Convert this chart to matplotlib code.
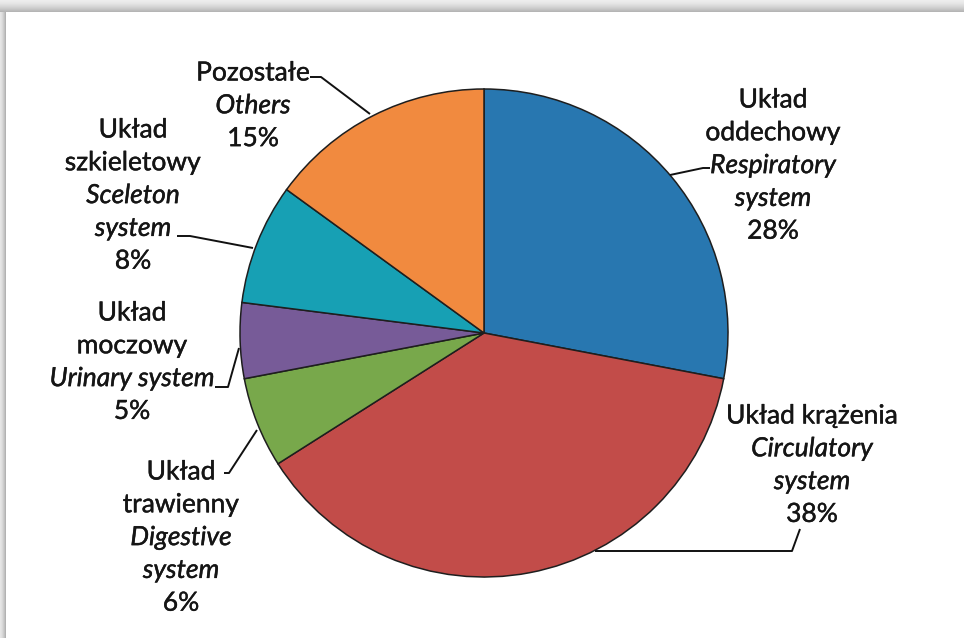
import numpy as np
import matplotlib
matplotlib.use("Agg")
import matplotlib.pyplot as plt
import matplotlib.patheffects as pe

# slice values (percent), clockwise from 12 o'clock
values = [28, 38, 6, 5, 8, 15]
names_pl = ["Układ\noddechowy", "Układ krążenia", "Układ\ntrawienny",
            "Układ\nmoczowy", "Układ\nszkieletowy", "Pozostałe"]
names_en = ["Respiratory\nsystem", "Circulatory\nsystem", "Digestive\nsystem",
            "Urinary system", "Sceleton\nsystem", "Others"]
colors = ["#2877b0", "#c24c49", "#78a84b", "#775b98", "#17a0b4", "#f18a3f"]

# label block centres (x, y of first line) in pixels, top-left origin
label_pos = [(773, 100), (812, 416), (181, 472), (132, 313), (133, 130), (253, 73)]
# leader lines, pixel coords
leaders = [
    [(670, 175), (703, 168), (710, 168)],
    [(800, 529), (792, 551), (595, 551)],
    [(224, 473), (229, 473), (257, 430)],
    [(215, 387), (228, 387), (239, 348)],
    [(177, 236), (190, 236), (253, 248)],
    [(310, 77), (321, 77), (370, 114)],
]

W, H = 964, 638
LINE = 32.8
FONT = ["Lato", "DejaVu Sans"]

fig = plt.figure(figsize=(W / 100, H / 100), dpi=100)
ax = fig.add_axes([0, 0, 1, 1])

# grey drop shadow along the top and left edges
bg = np.ones((H, W, 3))
top = 12
for i in range(top):
    g = 0.93 - 0.22 * (i / (top - 1)) ** 1.5
    bg[i, :, :] = g
left = 6
for j in range(left):
    g = 0.90 - 0.2 * (j / (left - 1)) ** 1.5
    bg[top:, j, :] = np.minimum(bg[top:, j, :], g)
ax.imshow(bg, extent=[0, W, 0, H], zorder=0, interpolation="bilinear")

ax.pie(values, colors=colors, startangle=90, counterclock=False,
       center=(484, H - 333), radius=244,
       wedgeprops=dict(edgecolor="#1e1e1e", linewidth=1.1, zorder=2))

thicken = [pe.withStroke(linewidth=0.3, foreground="#151515")]
for k, v in enumerate(values):
    lines = [(t, "normal") for t in names_pl[k].split("\n")]
    lines += [(t, "italic") for t in names_en[k].split("\n")]
    lines.append((f"{v}%", "normal"))
    x0, y0 = label_pos[k]
    for n, (t, st) in enumerate(lines):
        ax.text(x0, H - (y0 + n * LINE), t, ha="center", va="center",
                fontsize=19, style=st, family=FONT, color="#151515", zorder=4,
                path_effects=thicken)
    pts = np.array(leaders[k], dtype=float)
    ax.plot(pts[:, 0], H - pts[:, 1], color="#111111", lw=1.4, zorder=3,
            solid_capstyle="butt")

ax.set_xlim(0, W)
ax.set_ylim(0, H)
ax.set_aspect("auto")
ax.axis("off")
fig.savefig("out.png", dpi=100)
